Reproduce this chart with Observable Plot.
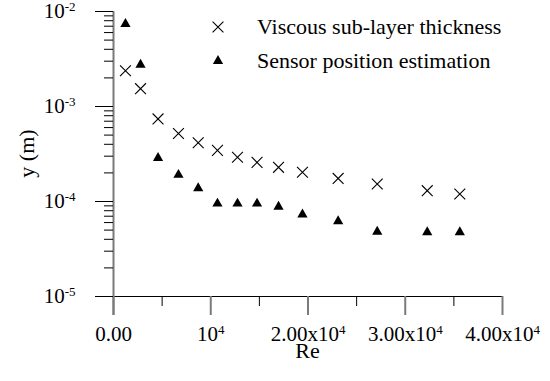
<!DOCTYPE html>
<html><head><meta charset="utf-8">
<script src="https://cdn.jsdelivr.net/npm/d3@7"></script>
<script src="https://cdn.jsdelivr.net/npm/@observablehq/plot@0.6"></script>
<style>
html,body{margin:0;padding:0;background:#fff;}
#wrap{position:relative;width:550px;height:381px;}
</style></head><body><div id="wrap"></div>
<script>
// Reynolds numbers (x)
const re = [1230, 2780, 4580, 6680, 8710, 10690, 12750, 14760, 16970, 19430, 23100, 27120, 32260, 35610];
// Viscous sub-layer thickness (m)
const viscous = [2.38e-3, 1.54e-3, 7.4e-4, 5.2e-4, 4.15e-4, 3.45e-4, 2.92e-4, 2.58e-4, 2.29e-4, 2.03e-4, 1.75e-4, 1.53e-4, 1.30e-4, 1.20e-4];
// Sensor position estimation (m)
const sensor = [7.4e-3, 2.75e-3, 2.87e-4, 1.91e-4, 1.38e-4, 9.5e-5, 9.5e-5, 9.5e-5, 8.8e-5, 7.3e-5, 6.2e-5, 4.8e-5, 4.75e-5, 4.75e-5];
const seriesNames = ["Viscous sub-layer thickness", "Sensor position estimation"];
const xTicks = [0, 10000, 20000, 30000, 40000];
const xTickLabels = ["0.00", "10^4", "2.00x10^4", "3.00x10^4", "4.00x10^4"];
const xMinorTicks = [5000, 15000, 25000, 35000];
const yTicks = [1e-5, 1e-4, 1e-3, 1e-2];
const yTickLabels = ["10^-5", "10^-4", "10^-3", "10^-2"];
const yMinorTicks = yTicks.slice(0, -1).flatMap(d => d3.range(2, 10).map(k => k * d));
const xLabel = "Re";
const yLabel = "y (m)";

const viscousData = re.map((x, i) => ({x, y: viscous[i]}));
const sensorData = re.map((x, i) => ({x, y: sensor[i]}));

const FONT = '"Liberation Serif", "Times New Roman", serif';
const crossR = 5, triR = 3.8;

const chart = Plot.plot({
  width: 550, height: 381,
  marginLeft: 113, marginRight: 48, marginTop: 11, marginBottom: 85,
  style: {fontFamily: FONT, fontSize: "21px", background: "white", overflow: "visible"},
  x: {domain: [0, 40000]},
  y: {type: "log", domain: [1e-5, 1e-2]},
  marks: [
    Plot.ruleY([1e-5], {stroke: "black", strokeWidth: 1}),
    Plot.ruleX([0], {stroke: "#7a7a7a", strokeWidth: 2, insetBottom: -19}),
    Plot.axisX({ticks: xMinorTicks, tickSize: 10, tickFormat: () => "", label: null, stroke: "black"}),
    Plot.axisX({ticks: xTicks, tickSize: 19, tickPadding: 11, tickFormat: d => xTickLabels[xTicks.indexOf(d)],
      label: null, stroke: "#7a7a7a", strokeWidth: 2, fill: "black"}),
    Plot.axisY({ticks: yMinorTicks, tickSize: 9, tickFormat: () => "", label: null, stroke: "black"}),
    Plot.axisY({ticks: yTicks, tickSize: 18, tickPadding: 20, tickFormat: d => yTickLabels[yTicks.indexOf(d)],
      label: null, stroke: "black", fill: "black"}),
    Plot.dot(viscousData, {x: "x", y: "y", symbol: "times", r: crossR, stroke: "black", strokeWidth: 1.1}),
    Plot.dot(sensorData, {x: "x", y: "y", symbol: "triangle", r: triR, fill: "black", stroke: "none"})
  ]
});

const svg = d3.select(chart);

// superscripts in tick labels
svg.selectAll("text").each(function() {
  const el = this;
  if (el.querySelector("tspan")) return;
  const s = el.textContent;
  if (!s.includes("^")) return;
  const [base, exp] = s.split("^");
  el.textContent = base;
  const t = document.createElementNS("http://www.w3.org/2000/svg", "tspan");
  t.setAttribute("dy", "-7");
  t.setAttribute("font-size", "13px");
  t.textContent = exp;
  el.appendChild(t);
});

// axis titles
svg.append("text").attr("x", 307.5).attr("y", 358).attr("text-anchor", "middle")
  .attr("font-family", FONT).attr("font-size", "22px").attr("fill", "black").text(xLabel);
svg.append("text").attr("transform", "translate(34,153.5) rotate(-90)").attr("text-anchor", "middle")
  .attr("font-family", FONT).attr("font-size", "22px").attr("fill", "black").text(yLabel);

// legend
const leg = svg.append("g").attr("font-family", FONT).attr("font-size", "22px").attr("text-anchor", "start");
const legItems = [
  {name: seriesNames[0], sym: d3.symbolTimes, size: Math.PI * crossR * crossR, fill: "none", stroke: "black", cy: 27},
  {name: seriesNames[1], sym: d3.symbolTriangle, size: Math.PI * triR * triR, fill: "black", stroke: "none", cy: 61}
];
legItems.forEach(it => {
  leg.append("path").attr("d", d3.symbol(it.sym, it.size)()).attr("transform", `translate(218,${it.cy})`)
    .attr("fill", it.fill).attr("stroke", it.stroke).attr("stroke-width", 1.1);
  leg.append("text").attr("x", 257).attr("y", it.cy + 7).attr("fill", "black").text(it.name);
});

document.getElementById("wrap").appendChild(chart);
</script></body></html>
